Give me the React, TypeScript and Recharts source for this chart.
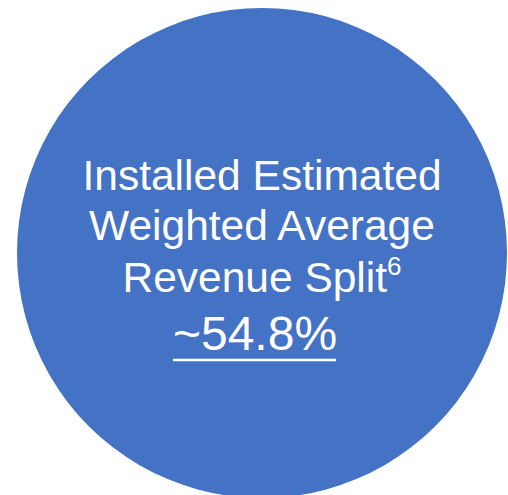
import { PieChart, Pie, Cell, Label } from 'recharts';

// ---------------------------------------------------------------------------
// Data
// ---------------------------------------------------------------------------
const SLICES = ['Revenue split'];
const SLICE_VALUES = [100];
const LABEL_LINES = ['Installed Estimated', 'Weighted Average', 'Revenue Split'];
const FOOTNOTE = '6';
const HEADLINE = '~54.8%';

// ---------------------------------------------------------------------------
// Theme
// ---------------------------------------------------------------------------
const FILL = '#4472C4';
const TEXT_FILL = '#FFFFFF';
const FONT = '"Liberation Sans", Arial, sans-serif';

const W = 508;
const H = 495;
const CX = 262;
const CY = 253;

const data = SLICES.map((name, i) => ({ name, value: SLICE_VALUES[i] }));

function CenterLabel() {
  const baselines = [190, 240, 292];
  return (
    <g fontFamily={FONT} fill={TEXT_FILL} textAnchor="middle">
      {LABEL_LINES.map((line, i) => (
        <text key={line} x={CX} y={baselines[i]} fontSize={42.5} fill={TEXT_FILL}>
          {line}
          {i === LABEL_LINES.length - 1 && (
            <tspan fontSize={26} dy={-17}>
              {FOOTNOTE}
            </tspan>
          )}
        </text>
      ))}
      <text x={CX - 7} y={350} fontSize={48} fill={TEXT_FILL}>
        {HEADLINE}
      </text>
      <line x1={173} x2={336} y1={360} y2={360} stroke={TEXT_FILL} strokeWidth={2.5} />
    </g>
  );
}

export default function App() {
  return (
    <div style={{ position: 'absolute', left: 0, top: 0, width: W, height: H, background: '#fff' }}>
      <PieChart width={W} height={H} margin={{ top: 0, right: 0, bottom: 0, left: 0 }}>
        <Pie
          data={data}
          dataKey="value"
          cx={CX}
          cy={CY}
          innerRadius={0}
          outerRadius={245}
          stroke="none"
          isAnimationActive={false}
        >
          {data.map((d) => (
            <Cell key={d.name} fill={FILL} />
          ))}
          <Label position="center" content={() => <CenterLabel />} />
        </Pie>
      </PieChart>
    </div>
  );
}
